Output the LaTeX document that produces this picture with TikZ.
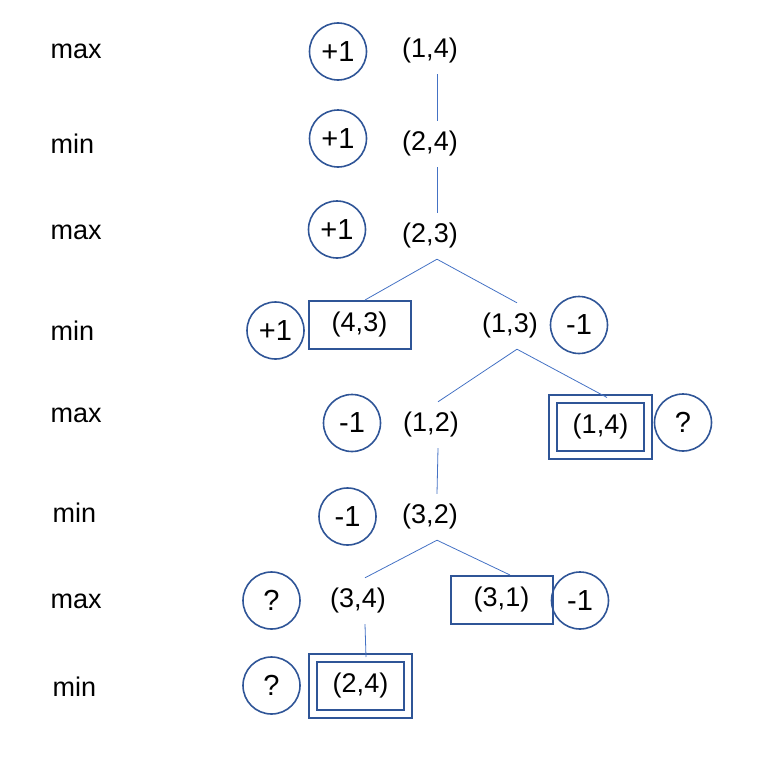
\documentclass[tikz,border=0pt]{standalone}
\usepackage{fontspec}
\setmainfont{Liberation Sans}
\usetikzlibrary{positioning}

\definecolor{ringblue}{HTML}{2F5597}
\definecolor{lineblue}{HTML}{4472C4}

\begin{document}
\begin{tikzpicture}[x=1pt,y=-1pt,
   font=\fontsize{27}{32}\selectfont,
   tier/.style={anchor=west},
   cell/.style={minimum height=46,inner sep=0pt},
   val/.style={circle,draw=ringblue,line width=1.6pt,minimum size=57,inner sep=0pt,font=\fontsize{29}{32}\selectfont},
   leafbox/.style={rectangle,draw=ringblue,line width=2pt,minimum width=102,minimum height=48,inner sep=0pt},
   dleafbox/.style={rectangle,draw=ringblue,double,double distance=6pt,line width=2pt,minimum width=94.5,minimum height=56,inner sep=0pt},
   branch/.style={draw=lineblue,line width=0.8pt}]
   \useasboundingbox (0,0) rectangle (777,771);

   % min / max column
   \node[tier] (l1) at (47,51)  {max};
   \node[tier] (l2) at (47,144) {min};
   \node[tier] (l3) at (47,232) {max};
   \node[tier] (l4) at (47,331) {min};
   \node[tier] (l5) at (47,415) {max};
   \node[tier] (l6) at (49,513) {min};
   \node[tier] (l7) at (47,601) {max};
   \node[tier] (l8) at (49,687) {min};

   % positions
   \node[cell]     (n14) at (430,51)    {(1,4)};
   \node[cell]     (n24) at (430,144)   {(2,4)};
   \node[cell]     (n23) at (430,236)   {(2,3)};
   \node[leafbox]  (n43) at (359.5,325) {(4,3)};
   \node[cell]     (n13) at (510,326)   {(1,3)};
   \node[cell]     (n12) at (431,425)   {(1,2)};
   \node[dleafbox] (d14) at (600.5,426.5) {(1,4)};
   \node[cell]     (n32) at (430,517)   {(3,2)};
   \node[cell]     (n34) at (358,601)   {(3,4)};
   \node[leafbox]  (n31) at (501.5,600) {(3,1)};
   \node[dleafbox] (d24) at (360.5,686) {(2,4)};

   % values
   \node[val] (v14) at (338,51.5)  {+1};
   \node[val] (v24) at (338,138.5) {+1};
   \node[val] (v23) at (337,229.5) {+1};
   \node[val] (v43) at (275.5,330.5) {+1};
   \node[val] (v13) at (579,325)   {-1};
   \node[val] (v12) at (352,423)   {-1};
   \node[val] (w14) at (683,422.5) {?};
   \node[val] (v32) at (347.5,516.5) {-1};
   \node[val] (v34) at (271.5,600.5) {?};
   \node[val] (v31) at (580,600.5) {-1};
   \node[val] (w24) at (271.5,685.5) {?};

   \path[branch] ([xshift=7pt]n14.south) edge ([xshift=7pt]n24.north)
                 ([xshift=7pt]n24.south) edge ([xshift=7pt]n23.north)
                 ([xshift=7pt]n23.south) edge ([xshift=5.5pt]n43.north)
                                         edge ([xshift=7pt]n13.north)
                 ([xshift=7pt]n13.south) edge ([xshift=7pt]n12.north)
                                         edge ([xshift=6.5pt]d14.north)
                 ([xshift=7pt]n12.south) edge ([xshift=7pt]n32.north)
                 ([xshift=7pt]n32.south) edge ([xshift=7pt]n34.north)
                                         edge ([xshift=8.5pt]n31.north)
                 ([xshift=7pt]n34.south) edge ([xshift=5.5pt]d24.north);
\end{tikzpicture}
\end{document}
